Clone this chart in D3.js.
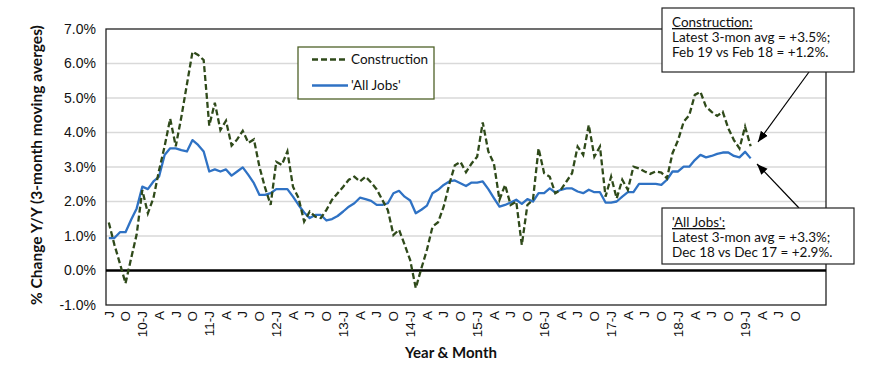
<!DOCTYPE html>
<html>
<head>
<meta charset="utf-8">
<script src="https://cdn.jsdelivr.net/npm/d3@7"></script>
<style>
  body { margin: 0; background: #fff; }
  svg { font-family: Lato, "Noto Sans", sans-serif; }
  .ytick text { font-size: 14px; fill: #111; }
  .xtick text { font-size: 13.5px; fill: #111; }
  .title { font-size: 15px; font-weight: bold; fill: #111; }
  .note { font-size: 13.5px; fill: #111; }
</style>
</head>
<body>
<div id="chart"></div>
<script>
// monthly categories Jul 2009 .. Mar 2020 (axis runs past the data)
let months = d3.timeMonth.range(new Date(2009, 6, 1), new Date(2020, 3, 1));

// labels every 3rd month, starting Jul 2009
let tickLabels = ["J","O","10-J","A","J","O","11-J","A","J","O","12-J","A","J","O",
  "13-J","A","J","O","14-J","A","J","O","15-J","A","J","O","16-J","A","J","O",
  "17-J","A","J","O","18-J","A","J","O","19-J","A","J","O"];

let yTicks = [-1, 0, 1, 2, 3, 4, 5, 6, 7];

// % change Y/Y, 3-month moving averages, Jul 2009 .. Feb 2019
let construction = [
  1.39, 0.75, 0.2, -0.37, 0.35, 1.05, 2.33, 1.66, 2.1, 2.9, 3.6, 4.4,
  3.6, 4.45, 5.4, 6.34, 6.25, 6.1, 4.2, 4.86, 4.07, 4.34, 3.62, 3.8,
  4.05, 3.7, 3.8, 3.0, 2.4, 1.9, 3.15, 3.06, 3.45, 2.43, 2.1, 1.42,
  1.71, 1.56, 1.52, 1.76, 2.05, 2.24, 2.43, 2.63, 2.72, 2.58, 2.72, 2.55,
  2.35, 2.05, 1.75, 1.03, 1.18, 0.75, 0.3, -0.51, 0.06, 0.6, 1.27, 1.4,
  1.85, 2.5, 3.05, 3.15, 2.85, 3.1, 3.3, 4.29, 3.45, 3.1, 2.05, 2.48,
  1.9, 2.0, 0.74, 1.9, 2.05, 3.54, 2.82, 2.72, 2.24, 2.34, 2.58, 2.82,
  3.59, 3.35, 4.22, 3.3, 3.59, 2.14, 2.72, 2.09, 2.63, 2.34, 3.01, 2.96,
  2.87, 2.8, 2.87, 2.84, 2.67, 3.4, 3.78, 4.31, 4.5, 5.09, 5.18, 4.75,
  4.6, 4.48, 4.6, 4.12, 3.78, 3.54, 4.17, 3.6
];
let allJobs = [
  0.94, 0.94, 1.11, 1.11, 1.47, 1.8, 2.43, 2.36, 2.58, 2.72, 3.35, 3.54,
  3.54, 3.49, 3.45, 3.78, 3.64, 3.45, 2.87, 2.93, 2.87, 2.93, 2.75, 2.87,
  2.99, 2.77, 2.53, 2.19, 2.19, 2.24, 2.36, 2.36, 2.36, 2.14, 1.9, 1.68,
  1.52, 1.61, 1.61, 1.45, 1.49, 1.58, 1.71, 1.85, 1.95, 2.11, 2.07, 2.02,
  1.9, 1.9, 1.95, 2.24, 2.31, 2.14, 2.03, 1.66, 1.76, 1.88, 2.24, 2.34,
  2.48, 2.58, 2.61, 2.53, 2.45, 2.55, 2.55, 2.58, 2.36, 2.1, 1.85, 1.9,
  1.97, 2.05, 1.93, 2.07, 2.0, 2.24, 2.24, 2.38, 2.26, 2.34, 2.38, 2.38,
  2.29, 2.24, 2.34, 2.27, 2.27, 1.97, 1.97, 2.0, 2.14, 2.27, 2.27, 2.51,
  2.51, 2.51, 2.51, 2.48, 2.63, 2.87, 2.87, 3.01, 3.01, 3.2, 3.35, 3.28,
  3.32, 3.38, 3.42, 3.42, 3.32, 3.28, 3.44, 3.25
];

let width = 870
let height = 371
let margin = {top: 29, right: 44, bottom: 66, left: 106}
let darkGreen = "#2f4a1a"
let blue = "#2f72c4"

let svg = d3.select("#chart").append("svg")
  .attr("width", width)
  .attr("height", height);

let x = d3.scaleBand()
  .domain(d3.range(months.length))
  .range([margin.left, width - margin.right]);

let y = d3.scaleLinear()
  .domain([-1, 7])
  .range([height - margin.bottom, margin.top]);

let xc = i => x(i) + x.bandwidth() / 2;

// gridlines
svg.append("g")
  .selectAll("line")
  .data(yTicks.filter(d => d > 0 && d < 7))
  .join("line")
  .attr("x1", margin.left)
  .attr("x2", width - margin.right)
  .attr("y1", d => y(d))
  .attr("y2", d => y(d))
  .attr("stroke", "#d9d9d9")
  .attr("stroke-width", 1.5);

// y axis labels
let yAxis = svg.append("g")
  .attr("class", "ytick")
  .attr("transform", `translate(${margin.left},0)`)
  .call(d3.axisLeft(y).tickValues(yTicks).tickSize(0).tickPadding(10)
    .tickFormat(d => d.toFixed(1) + "%"));
yAxis.select(".domain").remove();

// x axis labels (rotated)
let tickIdx = tickLabels.map((d, i) => i * 3);
let xAxis = svg.append("g")
  .attr("class", "xtick")
  .attr("transform", `translate(0,${height - margin.bottom})`)
  .call(d3.axisBottom(x).tickValues(tickIdx).tickSize(0)
    .tickFormat((d, i) => tickLabels[i]));
xAxis.select(".domain").remove();
xAxis.selectAll("text")
  .attr("transform", "rotate(-90)")
  .attr("text-anchor", "end")
  .attr("x", -6)
  .attr("y", 0)
  .attr("dy", "0.35em");

// frame
svg.append("rect")
  .attr("x", margin.left)
  .attr("y", margin.top)
  .attr("width", width - margin.left - margin.right)
  .attr("height", height - margin.top - margin.bottom)
  .attr("fill", "none")
  .attr("stroke", "#222")
  .attr("stroke-width", 1.3);

// zero line
svg.append("line")
  .attr("x1", margin.left)
  .attr("x2", width - margin.right)
  .attr("y1", y(0))
  .attr("y2", y(0))
  .attr("stroke", "#000")
  .attr("stroke-width", 2.5);

let line = d3.line()
  .x((d, i) => xc(i))
  .y(d => y(d));

svg.append("path")
  .datum(allJobs)
  .attr("d", line)
  .attr("fill", "none")
  .attr("stroke", blue)
  .attr("stroke-width", 2.3)
  .attr("stroke-linejoin", "round");

svg.append("path")
  .datum(construction)
  .attr("d", line)
  .attr("fill", "none")
  .attr("stroke", darkGreen)
  .attr("stroke-width", 2.3)
  .attr("stroke-dasharray", "6,3");

// axis titles
svg.append("text")
  .attr("class", "title")
  .attr("transform", `translate(37,${(margin.top + height - margin.bottom) / 2 - 2}) rotate(-90)`)
  .attr("text-anchor", "middle")
  .attr("dy", "0.35em")
  .style("font-size", "15.5px")
  .text("% Change Y/Y (3-month moving averges)");

svg.append("text")
  .attr("class", "title")
  .attr("x", 451)
  .attr("y", 358)
  .attr("text-anchor", "middle")
  .text("Year & Month");

// legend
let legend = svg.append("g").attr("transform", "translate(298,47)");
legend.append("rect")
  .attr("width", 136)
  .attr("height", 52)
  .attr("fill", "#fff")
  .attr("stroke", "#4f6228")
  .attr("stroke-width", 1.3);
let legendItems = [
  {name: "Construction", color: darkGreen, dash: "6,3"},
  {name: "'All Jobs'", color: blue, dash: null}
];
legendItems.forEach(function(item, i) {
  let ly = 12.5 + i * 26;
  legend.append("line")
    .attr("x1", 14).attr("x2", 50)
    .attr("y1", ly).attr("y2", ly)
    .attr("stroke", item.color)
    .attr("stroke-width", 2.3)
    .attr("stroke-dasharray", item.dash);
  legend.append("text")
    .attr("class", "note")
    .attr("x", 53)
    .attr("y", ly)
    .attr("dy", "0.35em")
    .text(item.name);
});

// callouts
let arrowHead = svg.append("defs").append("marker")
  .attr("id", "arrow")
  .attr("viewBox", "0 0 10 10")
  .attr("refX", 10).attr("refY", 5)
  .attr("markerWidth", 9).attr("markerHeight", 9)
  .attr("orient", "auto-start-reverse");
arrowHead.append("path").attr("d", "M0,1 L10,5 L0,9 Z").attr("fill", "#000");

function callout(bx, by, bw, bh, lines, ax1, ay1, ax2, ay2) {
  svg.append("line")
    .attr("x1", ax1).attr("y1", ay1)
    .attr("x2", ax2).attr("y2", ay2)
    .attr("stroke", "#000")
    .attr("stroke-width", 1.2)
    .attr("marker-end", "url(#arrow)");
  svg.append("rect")
    .attr("x", bx).attr("y", by)
    .attr("width", bw).attr("height", bh)
    .attr("fill", "#fff")
    .attr("stroke", "#222")
    .attr("stroke-width", 1.2);
  lines.forEach(function(t, i) {
    svg.append("text")
      .attr("class", "note")
      .attr("x", bx + 10)
      .attr("y", by + 19 + i * 15)
      .attr("text-decoration", i === 0 ? "underline" : null)
      .text(t);
  });
}

callout(662, 8, 192, 64,
  ["Construction:", "Latest 3-mon avg = +3.5%;", "Feb 19 vs Feb 18 = +1.2%."],
  809, 72, 758, 142);
callout(662, 208, 192, 56,
  ["'All Jobs':", "Latest 3-mon avg = +3.3%;", "Dec 18 vs Dec 17 = +2.9%."],
  799, 208, 757, 164);
</script>
</body>
</html>
